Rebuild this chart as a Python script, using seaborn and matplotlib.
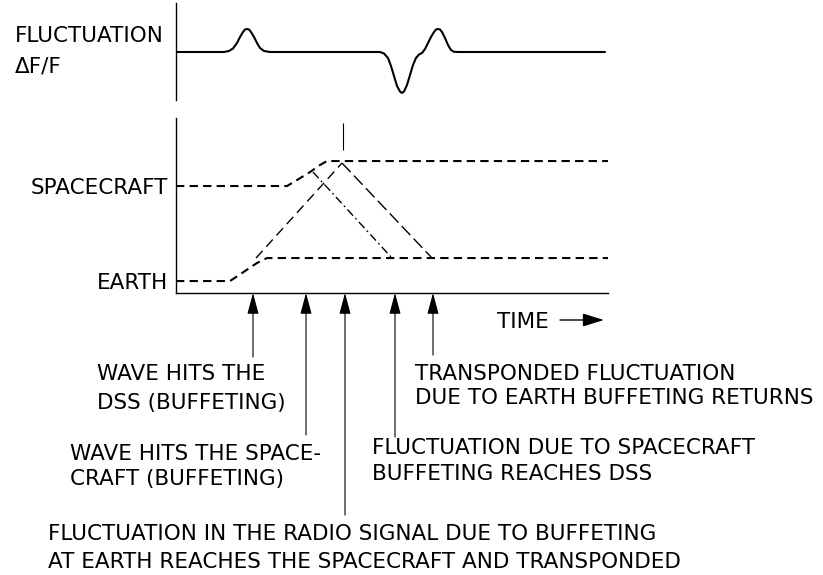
import matplotlib
matplotlib.use("Agg")
import matplotlib.pyplot as plt
import matplotlib.transforms as mtransforms
import seaborn as sns

# top trace: fluctuation dF/F against time
wave_t = [0, 48, 53, 57, 61, 64, 67, 69, 71, 73, 75, 78, 81, 84, 88, 94,
          204, 208, 212, 215, 218, 221, 224, 226, 228, 231, 234, 237, 240, 243, 246,
          249, 252, 255, 258, 260, 262, 264, 266, 269, 272, 275, 278, 282, 429]
wave_v = [0, 0, 0.1, 0.35, 0.9, 1.5, 2.0, 2.25, 2.3, 2.25, 2.0, 1.5, 0.9, 0.4, 0.1, 0,
          0, -0.15, -0.6, -1.4, -2.4, -3.4, -3.95, -4.1, -3.95, -3.3, -2.3, -1.3, -0.6, -0.25, -0.1,
          0.3, 0.9, 1.5, 2.0, 2.25, 2.3, 2.25, 2.0, 1.4, 0.7, 0.2, 0.02, 0, 0]

# position of spacecraft and earth (dashed)
sc_t = [0, 111, 121, 134, 144, 151, 432]
sc_level = [1, 1, 1.063, 1.147, 1.221, 1.263, 1.263]
earth_t = [0, 54, 66, 81, 91, 432]
earth_level = [0, 0, 0.084, 0.19, 0.242, 0.242]

# radio signal paths
up_t = [80, 166]
up_level = [0.242, 1.242]
down1_t = [137, 216]
down1_level = [1.147, 0.242]
down2_t = [166, 256]
down2_level = [1.242, 0.242]

level_ticks = [0, 1]
level_labels = ["EARTH", "SPACECRAFT"]

# event arrows under the time axis
arrow_t = [77, 130, 169, 219, 257]
arrow_bottom_px = [357, 435, 515, 437, 355]

W, H = 823, 575
FS = 15.5

sns.set_theme(style="white")
plt.rcParams["font.family"] = ["DejaVu Sans"]

fig = plt.figure(figsize=(W / 100, H / 100), dpi=100)
ax_top = fig.add_axes([176 / W, 1 - 100 / H, (608 - 176) / W, 97 / H])
ax_low = fig.add_axes([176 / W, 1 - 293 / H, (608 - 176) / W, 175 / H])

# top panel
sns.lineplot(x=wave_t, y=wave_v, ax=ax_top, color="black", lw=1.5,
             estimator=None, sort=False)
ax_top.set_xlim(0, 432)
ax_top.set_ylim(-4.8, 4.9)
for side in ["top", "right", "bottom"]:
    ax_top.spines[side].set_visible(False)
ax_top.spines["left"].set_color("black")
ax_top.spines["left"].set_linewidth(1.0)
ax_top.set_xticks([])
ax_top.set_yticks([])

# lower panel
sns.lineplot(x=sc_t, y=sc_level, ax=ax_low, color="black", lw=1.5,
             linestyle=(0, (4, 2.5)), estimator=None, sort=False)
sns.lineplot(x=earth_t, y=earth_level, ax=ax_low, color="black", lw=1.5,
             linestyle=(0, (4, 2.5)), estimator=None, sort=False)
sns.lineplot(x=up_t, y=up_level, ax=ax_low, color="black", lw=1.0,
             linestyle=(0, (7, 4)), estimator=None, sort=False)
sns.lineplot(x=down1_t, y=down1_level, ax=ax_low, color="black", lw=1.0,
             linestyle=(0, (6, 2.5, 1.2, 2.5)), estimator=None, sort=False)
sns.lineplot(x=down2_t, y=down2_level, ax=ax_low, color="black", lw=1.0,
             linestyle=(0, (9, 3.5)), estimator=None, sort=False)
ax_low.vlines(167, 1.379, 1.663, color="black", lw=0.8)

ax_low.set_xlim(0, 432)
ax_low.set_ylim(-0.126, 1.716)
for side in ["top", "right"]:
    ax_low.spines[side].set_visible(False)
for side in ["left", "bottom"]:
    ax_low.spines[side].set_color("black")
    ax_low.spines[side].set_linewidth(1.0)
ax_low.set_xticks([])
ax_low.set_yticks(level_ticks)
ax_low.set_yticklabels(level_labels, fontsize=FS)
ax_low.tick_params(axis="y", direction="in", length=5, width=1, pad=6, colors="black")


def ftext(x, y, s, **kw):
    # x = left edge, y = vertical centre of capitals, both in pixels
    fig.text(x / W, 1 - (y + 7.5) / H, s, fontsize=FS, va="baseline", ha="left",
             color="black", **kw)


# event arrows
blend = mtransforms.blended_transform_factory(ax_low.transData, fig.transFigure)
for t, bot in zip(arrow_t, arrow_bottom_px):
    ax_low.annotate("", xy=(t, -0.126), xycoords="data",
                    xytext=(t, 1 - bot / H), textcoords=blend,
                    arrowprops=dict(arrowstyle="-|>,head_length=1.3,head_width=0.35",
                                    color="black", lw=0.8, mutation_scale=10,
                                    shrinkA=0, shrinkB=0))

# labels
ftext(15, 35, "FLUCTUATION")
ftext(15, 65, "ΔF/F")
ftext(497, 320, "TIME")
fig.add_artist(matplotlib.patches.FancyArrowPatch(
    (560 / W, 1 - 320 / H), (604 / W, 1 - 320 / H), transform=fig.transFigure,
    arrowstyle="-|>,head_length=1.3,head_width=0.4", mutation_scale=10,
    color="black", lw=1.0, shrinkA=0, shrinkB=0))

ftext(97, 373, "WAVE HITS THE")
ftext(97, 402, "DSS (BUFFETING)")
ftext(70, 453, "WAVE HITS THE SPACE-")
ftext(70, 478, "CRAFT (BUFFETING)")
ftext(48, 533, "FLUCTUATION IN THE RADIO SIGNAL DUE TO BUFFETING")
ftext(48, 560, "AT EARTH REACHES THE SPACECRAFT AND TRANSPONDED")
ftext(415, 372, "TRANSPONDED FLUCTUATION")
ftext(415, 397, "DUE TO EARTH BUFFETING RETURNS")
ftext(372, 447, "FLUCTUATION DUE TO SPACECRAFT")
ftext(372, 472, "BUFFETING REACHES DSS")

fig.savefig("out.png", dpi=100, facecolor="white")
